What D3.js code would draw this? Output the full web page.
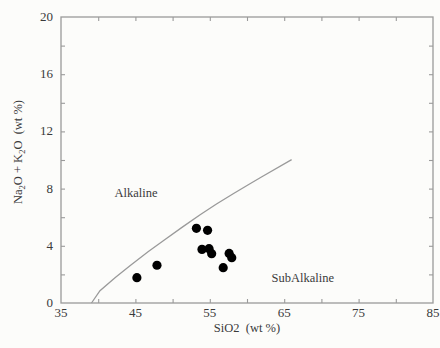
<!DOCTYPE html>
<html><head><meta charset="utf-8">
<script src="https://cdn.jsdelivr.net/npm/d3@7"></script>
<style>html,body{margin:0;padding:0;background:#fcfcfa;}svg{display:block;}
text{font-family:"Liberation Serif","Times New Roman",Times,"DejaVu Serif",serif;}</style>
</head><body>
<svg id="c" width="440" height="348"></svg>
<script>
const sio2 = [45.2, 47.9, 53.2, 54.7, 53.95, 54.9, 55.25, 57.6, 57.95, 56.8];
const alkali = [1.77, 2.64, 5.22, 5.08, 3.75, 3.8, 3.45, 3.47, 3.17, 2.47];
const boundarySiO2 = [39.1, 40.24, 42.26, 44.27, 46.7, 48.75, 51.4, 53.7, 55.9, 58.2, 60.4, 62, 66];
const boundaryAlk = [0, 0.86, 1.77, 2.61, 3.58, 4.36, 5.34, 6.17, 6.92, 7.66, 8.34, 8.83, 10.03];
const xTicks = [35, 45, 55, 65, 75, 85];
const yTicks = [0, 4, 8, 12, 16, 20];
const fieldLabels = [{t:"Alkaline", x:42.2, y:7.4}, {t:"SubAlkaline", x:63.3, y:1.45}];

const svg = d3.select("#c");
const x = d3.scaleLinear().domain([35, 85]).range([61, 433]);
const y = d3.scaleLinear().domain([0, 20]).range([303, 17]);
const axisCol = "#9a9a9a", txtCol = "#3a3a3a";

// frame
svg.append("rect").attr("x", x(35)).attr("y", y(20)).attr("width", x(85)-x(35)).attr("height", y(0)-y(20))
  .attr("fill", "none").attr("stroke", axisCol).attr("stroke-width", 1.3);

const minorX = d3.range(40, 85, 5), minorY = d3.range(2, 20, 2);
function styleAxis(g){ g.select(".domain").remove(); g.selectAll("line").attr("stroke", axisCol).attr("stroke-width",1.1); g.selectAll("text").remove(); }
svg.append("g").attr("transform", `translate(0,${y(0)})`).call(d3.axisTop(x).tickValues(minorX).tickSize(4)).call(styleAxis);
svg.append("g").attr("transform", `translate(0,${y(20)})`).call(d3.axisBottom(x).tickValues(minorX).tickSize(4)).call(styleAxis);
svg.append("g").attr("transform", `translate(${x(35)},0)`).call(d3.axisRight(y).tickValues(minorY).tickSize(4)).call(styleAxis);
svg.append("g").attr("transform", `translate(${x(85)},0)`).call(d3.axisLeft(y).tickValues(minorY).tickSize(4)).call(styleAxis);

// tick labels
svg.append("g").selectAll("text").data(xTicks).join("text")
  .attr("x", d => x(d)).attr("y", 317).attr("text-anchor", "middle")
  .attr("font-size", 13).attr("fill", txtCol).text(d => d);
svg.append("g").selectAll("text").data(yTicks).join("text")
  .attr("x", 53).attr("y", d => y(d) + 4).attr("text-anchor", "end")
  .attr("font-size", 13).attr("fill", txtCol).text(d => d);

// axis titles
svg.append("text").attr("x", 247).attr("y", 332).attr("text-anchor", "middle")
  .attr("font-size", 12.5).attr("fill", txtCol).attr("xml:space","preserve").text("SiO2  (wt %)");
const yl = svg.append("text").attr("transform", "translate(22,152) rotate(-90)").attr("text-anchor", "middle")
  .attr("font-size", 12.5).attr("fill", txtCol).attr("xml:space","preserve");
yl.append("tspan").text("Na");
yl.append("tspan").attr("font-size", 8.5).attr("dy", 3).text("2");
yl.append("tspan").attr("dy", -3).text("O + K");
yl.append("tspan").attr("font-size", 8.5).attr("dy", 3).text("2");
yl.append("tspan").attr("dy", -3).text("O  (wt %)");

// boundary line
const line = d3.line().x(d => x(d[0])).y(d => y(d[1]));
svg.append("path").datum(boundarySiO2.map((s, i) => [s, boundaryAlk[i]]))
  .attr("d", line).attr("fill", "none").attr("stroke", axisCol).attr("stroke-width", 1.3);

// field labels
svg.append("g").selectAll("text").data(fieldLabels).join("text")
  .attr("x", d => x(d.x)).attr("y", d => y(d.y)).attr("font-size", 12.5)
  .attr("fill", txtCol).text(d => d.t);

// points
svg.append("g").selectAll("circle").data(sio2.map((s, i) => [s, alkali[i]])).join("circle")
  .attr("cx", d => x(d[0])).attr("cy", d => y(d[1])).attr("r", 4.6).attr("fill", "#000");
</script>
</body></html>
